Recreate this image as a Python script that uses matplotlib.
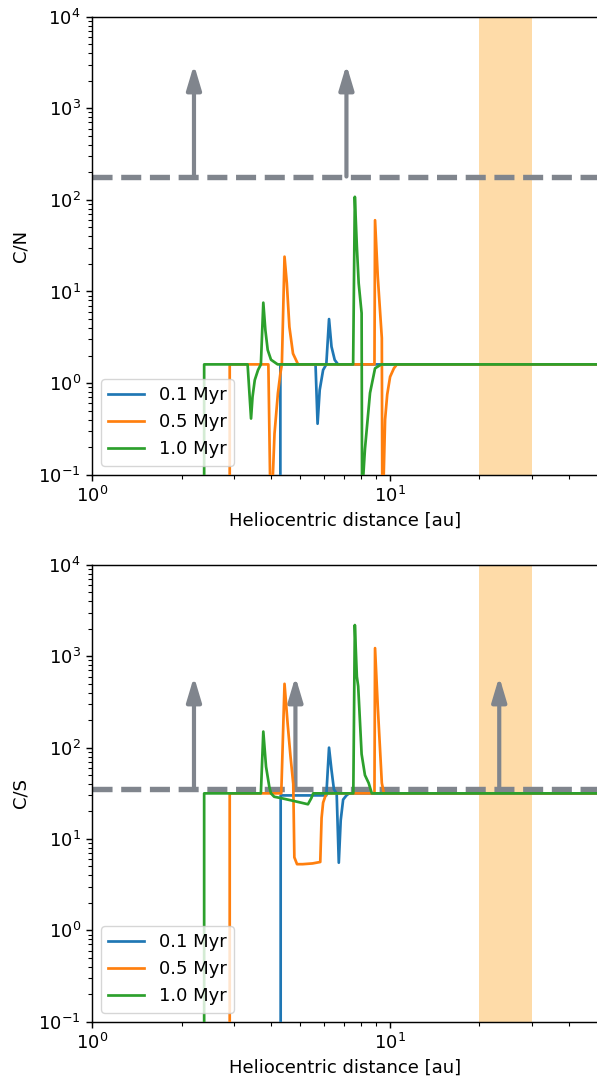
import matplotlib
matplotlib.use("Agg")
import matplotlib.pyplot as plt

# scale factor of the original rendering
s = 1.3
plt.rcParams['font.size'] = 10 * s
plt.rcParams['lines.linewidth'] = 1.5 * s
plt.rcParams['axes.linewidth'] = 0.8 * s
plt.rcParams['xtick.major.size'] = 3.5 * s
plt.rcParams['ytick.major.size'] = 3.5 * s
plt.rcParams['xtick.minor.size'] = 2 * s
plt.rcParams['ytick.minor.size'] = 2 * s
plt.rcParams['xtick.major.width'] = 0.8 * s
plt.rcParams['ytick.major.width'] = 0.8 * s
plt.rcParams['xtick.minor.width'] = 0.6 * s
plt.rcParams['ytick.minor.width'] = 0.6 * s

labels = ["0.1 Myr", "0.5 Myr", "1.0 Myr"]
colors = ["#1f77b4", "#ff7f0e", "#2ca02c"]

# ---- C/N ----
cn_r_01 = [1.0, 4.29, 4.29, 5.63, 5.72, 5.815, 5.97, 6.12, 6.25, 6.37, 6.53, 6.7, 100]
cn_v_01 = [1e-3, 1e-3, 1.6, 1.6, 0.36, 0.84, 1.39, 1.6, 5.0, 2.5, 1.79, 1.6, 1.6]

cn_r_05 = [1.0, 2.90, 2.90, 3.91, 3.99, 4.05, 4.10, 4.21, 4.29, 4.34, 4.43, 4.51, 4.60, 4.73,
           4.92, 8.88, 8.92, 9.11, 9.40, 9.45, 9.54, 9.64, 9.80, 10.02, 10.32, 10.56, 100]
cn_v_05 = [1e-3, 1e-3, 1.6, 1.6, 0.02, 0.1, 0.28, 0.78, 1.27, 1.6, 24, 12.3, 4.1, 2.1,
           1.6, 1.6, 60, 14.5, 3.1, 0.01, 0.1, 0.40, 0.75, 1.17, 1.45, 1.6, 1.6]

cn_r_10 = [1.0, 2.38, 2.38, 3.33, 3.42, 3.46, 3.52, 3.61, 3.69, 3.76, 3.82, 3.89, 3.99, 4.2,
           7.53, 7.63, 7.75, 7.86, 8.04, 8.08, 8.15, 8.25, 8.58, 8.92, 9.36, 100]
cn_v_10 = [1e-3, 1e-3, 1.6, 1.6, 0.41, 0.71, 1.08, 1.39, 1.6, 7.55, 3.8, 2.3, 1.8, 1.6,
           1.6, 108, 31, 12.3, 5.8, 0.01, 0.1, 0.19, 0.78, 1.45, 1.6, 1.6]

cn_limit = 180
cn_arrow_r = [2.2, 7.15]
cn_arrow_top = 3000

# ---- C/S ----
cs_r_01 = [1.0, 4.30, 4.30, 6.12, 6.25, 6.37, 6.49, 6.63, 6.74, 6.84, 6.97, 7.15, 7.3, 100]
cs_v_01 = [1e-3, 1e-3, 30, 30, 100, 57, 35, 31.6, 5.5, 16, 27, 30, 31.6, 31.6]

cs_r_05 = [1.0, 2.90, 2.90, 4.32, 4.43, 4.54, 4.64, 4.74, 4.78, 4.88, 5.1, 5.5, 5.84, 5.90,
           5.97, 6.12, 8.88, 8.92, 9.11, 9.40, 9.55, 100]
cs_v_05 = [1e-3, 1e-3, 31.6, 31.6, 500, 180, 80, 40, 6.3, 5.3, 5.3, 5.4, 5.6, 17,
           25, 31.6, 31.6, 1230, 282, 41, 31.6, 31.6]

cs_r_10 = [1.0, 2.38, 2.38, 3.69, 3.76, 3.84, 3.94, 3.99, 4.09, 4.32, 4.78, 5.31, 5.45, 5.53,
           7.54, 7.63, 7.75, 7.83, 8.04, 8.25, 8.49, 8.7, 100]
cs_v_10 = [1e-3, 1e-3, 31.6, 31.6, 150, 62, 37, 31.6, 29, 28, 26, 24, 28, 31.6,
           31.6, 2200, 600, 470, 85, 50, 41, 31.6, 31.6]

cs_limit = 35
cs_arrow_r = [2.2, 4.82, 23.3]
cs_arrow_top = 600

band = (20, 30)
gray = "#80858d"

fig = plt.figure(figsize=(5.97, 10.84), dpi=100)
ax1 = fig.add_axes([92 / 597, 0.5621, 506 / 597, 0.4225])
ax2 = fig.add_axes([92 / 597, 0.0575, 506 / 597, 0.4213])

panels = [
    (ax1, "C/N", [(cn_r_01, cn_v_01), (cn_r_05, cn_v_05), (cn_r_10, cn_v_10)],
     cn_limit, cn_arrow_r, cn_arrow_top),
    (ax2, "C/S", [(cs_r_01, cs_v_01), (cs_r_05, cs_v_05), (cs_r_10, cs_v_10)],
     cs_limit, cs_arrow_r, cs_arrow_top),
]

for ax, ylab, series, limit, arrow_r, arrow_top in panels:
    ax.axvspan(band[0], band[1], color="#fedba8", lw=0, zorder=0)
    ax.axhline(limit, color=gray, ls="--", lw=3 * s, zorder=1)
    for xa in arrow_r:
        ax.annotate("", xy=(xa, arrow_top), xytext=(xa, limit),
                    arrowprops=dict(arrowstyle="-|>,head_length=0.67,head_width=0.2",
                                    mutation_scale=22, lw=3.0, color=gray,
                                    shrinkA=0, shrinkB=0), zorder=2)
    for (r, v), lab, c in zip(series, labels, colors):
        ax.plot(r, v, color=c, label=lab, zorder=3)
    ax.set_xscale("log")
    ax.set_yscale("log")
    ax.set_xlim(1, 50)
    ax.set_ylim(1e-1, 1e4)
    ax.set_xlabel("Heliocentric distance [au]")
    ax.set_ylabel(ylab, labelpad=6)
    ax.legend(loc="lower left")

fig.savefig("out.png", dpi=100)
